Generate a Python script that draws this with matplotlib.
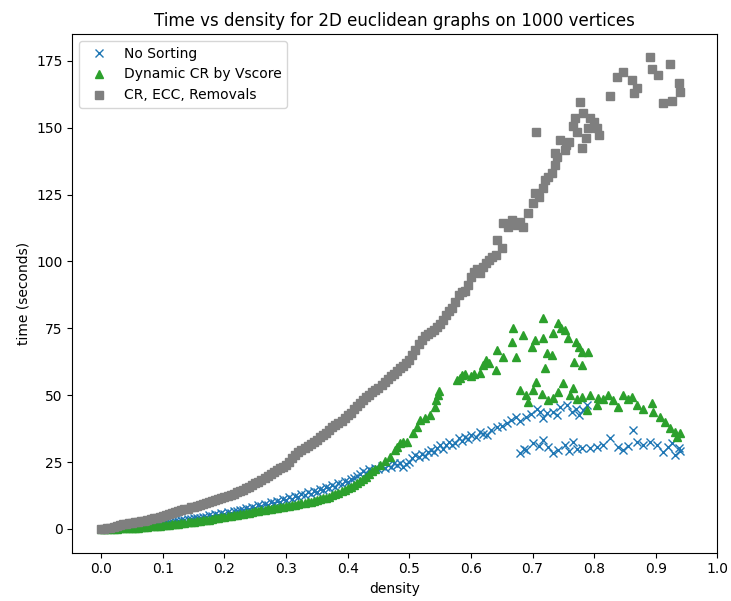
import matplotlib
matplotlib.use("Agg")
from matplotlib import pyplot as plt

# dense low-density sweep (shared by all three methods)
density_grid = [
    0.000, 0.005, 0.010, 0.015, 0.020, 0.025, 0.030, 0.035, 0.040, 0.045,
    0.050, 0.055, 0.060, 0.065, 0.070, 0.075, 0.080, 0.085, 0.090, 0.095,
    0.100, 0.105, 0.110, 0.115, 0.120, 0.125, 0.130, 0.135, 0.140, 0.145,
    0.150, 0.155, 0.160, 0.165, 0.170, 0.175, 0.180, 0.185, 0.190, 0.195,
    0.200, 0.205, 0.210, 0.215, 0.220, 0.225, 0.230, 0.235, 0.240, 0.245,
    0.250, 0.255, 0.260, 0.265, 0.270, 0.275, 0.280, 0.285, 0.290, 0.295,
    0.300, 0.305, 0.310, 0.315, 0.320, 0.325, 0.330, 0.335, 0.340, 0.345,
    0.350, 0.355, 0.360, 0.365, 0.370, 0.375, 0.380, 0.385, 0.390, 0.395,
    0.400, 0.405, 0.410, 0.415, 0.420, 0.425, 0.430, 0.435, 0.440, 0.445,
    0.450, 0.455, 0.460, 0.465, 0.470, 0.475, 0.480, 0.485, 0.490, 0.495,
    0.500, 0.505, 0.510, 0.515, 0.520, 0.525, 0.530, 0.535, 0.540, 0.545,
    0.550, 0.555, 0.560, 0.565, 0.570, 0.575, 0.580, 0.585, 0.590, 0.595,
    0.600, 0.605, 0.610, 0.615, 0.620, 0.625, 0.630, 0.635, 0.640,
]

# --- No Sorting ---
no_sort_grid_time = [
    0.0, 0.0, 0.1, 0.1, 0.2, 0.3, 0.4, 0.5, 0.6, 0.7,
    0.8, 0.9, 1.0, 1.1, 1.3, 1.4, 1.6, 1.7, 1.9, 2.1,
    2.2, 2.4, 2.6, 2.7, 2.9, 3.1, 3.2, 3.4, 3.6, 3.7,
    3.9, 4.1, 4.2, 4.6, 4.5, 5.0, 4.9, 5.4, 5.2, 5.8,
    5.6, 6.3, 5.9, 6.6, 6.5, 7.2, 6.9, 7.7, 7.3, 8.3,
    7.9, 8.8, 8.4, 9.4, 9.1, 9.9, 9.6, 10.6, 10.2, 11.3,
    10.8, 11.8, 11.3, 12.4, 11.9, 13.0, 12.5, 13.6, 13.1, 14.2,
    13.9, 14.9, 14.4, 15.6, 15.1, 16.3, 15.8, 17.0, 16.6, 17.8,
    17.4, 18.7, 18.9, 19.8, 20.6, 21.5, 21.0, 22.3, 21.8, 22.8,
    22.2, 23.5, 22.9, 24.0, 23.3, 24.5, 23.8, 24.8, 23.2, 24.2,
    25.0, 26.5, 27.5, 26.8, 28.0, 27.3, 28.8, 29.5, 28.6, 30.2,
    31.3, 30.0, 31.5, 32.5, 31.2, 32.2, 34.0, 33.0, 34.5, 33.6,
]
no_sort_hi_density = [
    0.600, 0.608, 0.615, 0.620, 0.626, 0.632, 0.642, 0.650, 0.658, 0.665,
    0.674, 0.680, 0.690, 0.697, 0.707, 0.712, 0.717, 0.723, 0.734, 0.740,
    0.745, 0.756, 0.764, 0.771, 0.776, 0.782, 0.788,
    0.680, 0.686, 0.690, 0.701, 0.710, 0.717, 0.725, 0.734, 0.742, 0.753,
    0.760, 0.766, 0.773, 0.780, 0.793, 0.804, 0.815, 0.826, 0.839, 0.847,
    0.855, 0.863, 0.869, 0.880, 0.891, 0.902, 0.912, 0.920, 0.926, 0.931,
    0.937, 0.940,
]
no_sort_hi_time = [
    35.2, 34.3, 36.2, 35.6, 35.0, 36.8, 38.0, 38.5, 39.6, 40.8,
    41.9, 40.5, 41.9, 43.0, 45.0, 43.8, 41.5, 43.3, 43.7, 42.5,
    45.6, 46.3, 43.7, 45.0, 42.6, 44.5, 46.3,
    28.4, 30.0, 29.5, 32.0, 31.0, 33.3, 30.5, 28.4, 29.5, 31.4,
    29.0, 32.5, 30.0, 30.3, 30.3, 30.7, 31.5, 34.0, 30.7, 29.5,
    31.0, 37.0, 32.5, 31.5, 32.5, 31.4, 28.8, 30.5, 32.0, 27.6,
    30.3, 29.0,
]

# --- Dynamic CR by Vscore ---
dyn_cr_grid_time = [
    0.0, 0.0, 0.0, 0.1, 0.1, 0.1, 0.2, 0.2, 0.3, 0.3,
    0.4, 0.5, 0.5, 0.6, 0.7, 0.8, 0.9, 1.0, 1.1, 1.2,
    1.3, 1.4, 1.5, 1.7, 1.8, 1.9, 2.1, 2.2, 2.4, 2.5,
    2.7, 2.8, 3.0, 3.2, 3.3, 3.5, 3.7, 3.9, 4.1, 4.3,
    4.5, 4.7, 4.9, 5.1, 5.3, 5.5, 5.7, 5.9, 6.1, 6.3,
    6.5, 6.7, 6.9, 7.1, 7.3, 7.5, 7.7, 7.9, 8.1, 8.3,
    8.4, 8.6, 8.8, 9.0, 9.3, 9.5, 9.7, 10.0, 10.2, 10.5,
    10.8, 11.1, 11.4, 11.7, 12.1, 12.5, 12.9, 13.4, 14.0, 14.5,
    15.1, 15.8, 16.5, 17.2, 17.8, 18.5, 19.5, 20.5, 21.5,
]
dyn_cr_hi_density = [
    0.445, 0.452, 0.460, 0.469, 0.477, 0.480, 0.485, 0.490, 0.496, 0.506,
    0.512, 0.517, 0.525, 0.533, 0.541, 0.544, 0.547, 0.549, 0.577, 0.582,
    0.585, 0.590, 0.600, 0.605, 0.615, 0.620, 0.625, 0.630, 0.641, 0.643,
    0.652, 0.666, 0.668, 0.674, 0.684, 0.699, 0.704, 0.717, 0.717, 0.720,
    0.723, 0.731, 0.734, 0.741, 0.747, 0.753, 0.757, 0.768, 0.771, 0.776,
    0.781, 0.781, 0.790,
    0.680, 0.690, 0.693, 0.701, 0.706, 0.715, 0.725, 0.734, 0.742, 0.750,
    0.761, 0.766, 0.773, 0.780, 0.788, 0.793, 0.804, 0.806, 0.815, 0.822,
    0.830, 0.839, 0.847, 0.855, 0.861, 0.869, 0.880, 0.894, 0.896, 0.907,
    0.915, 0.923, 0.931, 0.935, 0.940,
]
dyn_cr_hi_time = [
    22.5, 24.0, 25.5, 27.0, 29.5, 30.6, 32.0, 32.5, 32.5, 35.9,
    38.0, 40.7, 41.5, 42.6, 45.6, 48.0, 50.0, 51.5, 55.7, 56.5,
    57.5, 58.0, 57.0, 58.0, 58.3, 61.3, 63.0, 62.0, 59.4, 67.0,
    64.3, 70.0, 75.0, 64.3, 72.5, 68.0, 70.6, 78.8, 71.4, 60.0,
    65.7, 65.0, 73.2, 77.0, 75.0, 74.4, 71.4, 62.4, 70.0, 68.0,
    66.0, 61.3, 66.0,
    52.0, 50.0, 47.5, 52.0, 55.0, 50.5, 48.0, 49.0, 51.0, 54.6,
    50.0, 52.7, 48.5, 49.3, 44.5, 50.0, 46.3, 49.0, 48.5, 50.0,
    48.0, 45.6, 50.0, 48.5, 49.3, 46.3, 45.0, 47.0, 43.7, 41.9,
    40.0, 37.7, 36.2, 34.5, 35.9,
]

# --- CR, ECC, Removals ---
cr_ecc_grid_time = [
    0.0, 0.1, 0.3, 0.5, 0.8, 1.1, 1.4, 1.7, 1.9, 2.1,
    2.3, 2.5, 2.7, 2.9, 3.1, 3.4, 3.6, 3.9, 4.2, 4.5,
    4.9, 5.2, 5.6, 6.0, 6.3, 6.7, 7.0, 7.3, 7.6, 8.0,
    8.3, 8.7, 9.0, 9.4, 9.8, 10.2, 10.6, 10.9, 11.3, 11.7,
    12.0, 12.4, 12.8, 13.2, 13.6, 14.0, 14.6, 15.2, 15.8, 16.4,
    17.0, 17.6, 18.3, 19.0, 19.8, 20.5, 21.2, 21.9, 22.6, 23.3,
    24.0, 25.0, 26.5, 27.5, 28.6, 29.5, 30.3, 31.0, 31.8, 32.5,
    33.3, 34.2, 35.0, 36.0, 37.0, 38.0, 38.8, 39.6, 40.4, 41.4,
    42.5, 43.5, 44.8, 46.0, 47.0, 48.2, 49.2, 50.0, 51.0, 52.0,
    52.8, 53.8, 55.0, 56.0, 57.0, 58.0, 59.0, 60.0, 60.8, 62.0,
    63.0, 65.0, 67.0, 69.0, 70.5, 72.0, 73.0, 73.5, 74.5, 75.5,
    76.5, 78.0, 80.0, 81.5, 82.5, 85.0, 87.5, 88.6, 89.0, 91.0,
    94.0, 96.0, 97.0, 95.5, 98.0, 99.5, 100.5, 101.5, 102.5,
]
cr_ecc_hi_density = [
    0.642, 0.651, 0.652, 0.660, 0.667, 0.675, 0.680, 0.685, 0.693, 0.701,
    0.704, 0.705, 0.710, 0.717, 0.720, 0.725, 0.731, 0.737, 0.737, 0.740,
    0.745, 0.752, 0.755, 0.760, 0.765, 0.769, 0.772, 0.777, 0.781, 0.782,
    0.787, 0.790, 0.794, 0.800, 0.805, 0.808, 0.825, 0.837, 0.847, 0.861,
    0.865, 0.869, 0.891, 0.894, 0.904, 0.912, 0.923, 0.927, 0.937, 0.940,
]
cr_ecc_hi_time = [
    108.0, 105.0, 114.3, 113.0, 115.5, 113.5, 114.7, 112.9, 118.0, 121.8,
    125.6, 148.4, 124.0, 127.4, 130.4, 131.5, 133.0, 136.0, 140.5, 139.0,
    145.4, 141.6, 143.5, 144.5, 150.5, 153.6, 148.4, 159.6, 142.4, 155.5,
    146.1, 150.0, 153.6, 152.0, 149.9, 147.2, 161.8, 169.0, 170.8, 167.8,
    163.0, 165.0, 176.4, 172.0, 169.6, 159.2, 173.8, 160.0, 166.7, 163.5,
]

fig = plt.figure(figsize=(7.31, 6.01), dpi=100)
ax = fig.add_axes([0.0989, 0.0804, 0.8824, 0.863])

ax.plot(density_grid[:len(no_sort_grid_time)] + no_sort_hi_density,
        no_sort_grid_time + no_sort_hi_time,
        'x', color='#1f77b4', label='No Sorting')
ax.plot(density_grid[:len(dyn_cr_grid_time)] + dyn_cr_hi_density,
        dyn_cr_grid_time + dyn_cr_hi_time,
        '^', color='#2ca02c', label='Dynamic CR by Vscore')
ax.plot(density_grid[:len(cr_ecc_grid_time)] + cr_ecc_hi_density,
        cr_ecc_grid_time + cr_ecc_hi_time,
        's', color='#7f7f7f', label='CR, ECC, Removals')

ax.set_xticks([0.0, 0.1, 0.2, 0.3, 0.4, 0.5, 0.6, 0.7, 0.8, 0.9, 1.0])
ax.set_xlim(-0.047, 1.0)
ax.set_ylim(-8.9, 185.0)
ax.set_title('Time vs density for 2D euclidean graphs on 1000 vertices')
ax.set_xlabel('density')
ax.set_ylabel('time (seconds)')
ax.legend(loc='upper left')

fig.savefig('out.png', dpi=100)
